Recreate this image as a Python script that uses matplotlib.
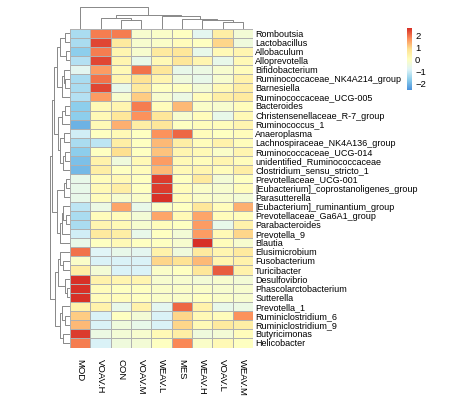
import numpy as np
import matplotlib
matplotlib.use("Agg")
import matplotlib.pyplot as plt
from matplotlib.colors import LinearSegmentedColormap

plt.rcParams['font.family'] = ['Liberation Sans', 'DejaVu Sans']

samples = ["MOD", "VOAV.H", "CON", "VOAV.M", "WEAV.L", "MES", "WEAV.H", "VOAV.L", "WEAV.M"]

taxa = ["Romboutsia", "Lactobacillus", "Allobaculum", "Alloprevotella", "Bifidobacterium",
        "Ruminococcaceae_NK4A214_group", "Barnesiella", "Ruminococcaceae_UCG-005", "Bacteroides",
        "Christensenellaceae_R-7_group", "Ruminococcus_1", "Anaeroplasma",
        "Lachnospiraceae_NK4A136_group", "Ruminococcaceae_UCG-014", "unidentified_Ruminococcaceae",
        "Clostridium_sensu_stricto_1", "Prevotellaceae_UCG-001",
        "[Eubacterium]_coprostanoligenes_group", "Parasutterella",
        "[Eubacterium]_ruminantium_group", "Prevotellaceae_Ga6A1_group", "Parabacteroides",
        "Prevotella_9", "Blautia", "Elusimicrobium", "Fusobacterium", "Turicibacter",
        "Desulfovibrio", "Phascolarctobacterium", "Sutterella", "Prevotella_1",
        "Ruminiclostridium_6", "Ruminiclostridium_9", "Butyricimonas", "Helicobacter"]

zscores = [
    [-1.4, 1.9, 1.9, -0.2, -0.1, 0.0, -0.7, 0.5, -0.3],
    [-1.4, 2.4, 0.6, -0.2, -0.1, 0.1, 0.0, 1.0, -0.4],
    [-1.7, 1.9, 0.3, -0.2, 0.6, 0.7, -0.6, 0.2, 0.3],
    [-1.3, 2.4, 0.3, -0.6, 0.2, 0.7, 0.3, -0.6, 0.2],
    [-0.7, 1.6, 0.2, 2.0, 0.7, -0.6, -0.5, -0.2, 0.1],
    [-1.4, 2.0, 0.3, 0.8, 0.3, -0.4, -0.6, -0.2, 0.4],
    [-1.4, 2.4, -0.6, 0.6, 0.0, 0.0, -0.3, 0.2, 0.5],
    [-1.3, 1.6, -0.2, 1.1, -0.2, -0.5, 0.1, 0.5, 0.6],
    [-1.7, 0.2, 0.3, 1.9, 0.1, 1.3, -0.1, -0.2, 0.1],
    [-1.7, 0.2, 0.7, 1.7, 0.7, -0.2, 0.1, -0.6, 0.2],
    [-2.1, 0.2, 1.4, 0.5, 0.7, 0.0, 0.1, 0.1, 0.3],
    [-1.0, 0.0, 0.2, 0.0, 1.7, 2.1, 0.1, 0.0, 0.1],
    [-1.4, -1.2, 0.5, 0.0, 1.3, 0.5, 0.1, 0.4, 0.1],
    [-1.7, 0.0, 0.9, 0.0, 1.2, 0.3, 0.2, -0.1, 0.3],
    [-1.9, 0.4, -0.4, 0.2, 1.6, 0.2, 0.1, 0.3, 0.1],
    [-2.0, 0.5, 0.0, 0.1, 1.3, 0.2, 0.3, 0.1, 0.5],
    [-0.6, 0.1, 0.2, 0.0, 2.5, 0.0, 0.6, -0.3, 0.0],
    [-0.6, 0.2, 0.5, 0.0, 2.5, 0.1, -0.1, -0.2, 0.1],
    [-0.6, 0.1, -0.2, -0.1, 2.6, 0.1, -0.1, -0.2, -0.3],
    [-1.2, -0.5, 1.5, -0.6, -0.1, 0.0, 0.7, 0.1, 1.4],
    [-1.4, 0.1, 0.1, -0.3, 1.5, 0.2, 1.5, 0.1, 0.1],
    [-1.4, 0.3, 0.2, -0.2, 0.1, 0.0, 1.6, -0.6, 0.4],
    [-1.0, 0.6, 0.5, -0.6, 0.0, -0.3, 1.6, 0.2, 1.0],
    [-0.6, 0.0, 0.2, 0.0, 0.0, -0.2, 2.6, 0.1, -0.2],
    [2.0, -0.8, -0.6, -0.7, 0.4, -0.4, 0.6, 0.3, 0.6],
    [-0.1, -0.9, -0.9, -0.9, 1.0, 0.8, 1.3, 0.3, 0.4],
    [0.5, -0.3, -0.9, -0.9, -0.1, 0.0, 0.7, 2.2, 0.4],
    [2.6, 0.4, 0.3, 0.3, -0.2, -0.2, -0.3, -0.2, -0.3],
    [2.6, 0.1, 0.0, 0.0, -0.1, -0.1, -0.1, -0.2, -0.2],
    [2.6, 0.1, 0.1, 0.0, -0.1, -0.1, 0.0, -0.1, -0.2],
    [0.4, 0.4, -0.6, 0.4, -0.7, 2.1, 0.4, -0.6, -0.5],
    [1.1, -0.9, 0.0, -0.3, -0.9, 1.0, 0.2, 0.1, 1.7],
    [1.3, -0.9, -0.4, -0.6, -0.9, 1.0, 0.2, 0.6, 0.5],
    [2.5, -0.5, -0.3, -0.2, 0.2, 0.5, -0.4, -0.3, 0.1],
    [1.9, -0.9, -0.4, -0.3, 0.0, 1.8, -0.1, 0.2, 0.0],
]

# linkage lists: [child_a, child_b, height]; new cluster id = n + index
col_linkage = [[2, 3, 8.0], [1, 9, 10.5], [7, 8, 6.3], [6, 11, 8.0], [5, 12, 9.7],
               [4, 13, 12.0], [10, 14, 13.0], [0, 15, 21.3]]

row_linkage = [[0, 1, 5], [2, 3, 4], [35, 36, 10], [5, 6, 5], [4, 38, 6], [39, 7, 8],
               [37, 40, 13], [8, 9, 5], [42, 10, 8], [11, 12, 6], [13, 14, 5], [45, 15, 7],
               [44, 46, 10], [43, 47, 12], [41, 48, 16], [16, 17, 4], [50, 18, 6],
               [20, 21, 4], [19, 52, 7], [53, 22, 8], [54, 23, 10], [51, 55, 13],
               [49, 56, 18], [25, 26, 7], [24, 58, 10], [28, 29, 3], [27, 60, 5],
               [59, 61, 12], [31, 32, 5], [30, 63, 8], [33, 34, 7], [64, 65, 10],
               [62, 66, 15], [57, 67, 20]]

legend_ticks = [-2, -1, 0, 1, 2]

data = np.array(zscores)
nr, nc = data.shape
vmin, vmax = -2.56, 2.62
cmap = LinearSegmentedColormap.from_list(
    "ph", ["#4a92dc", "#8ecfec", "#e0f5f8", "#FFFFBF", "#FEE090", "#FC8D59", "#D73027"])

W, H = 474, 397
fig = plt.figure(figsize=(W / 100, H / 100), dpi=100)

def fx(px):
    return px / W

def fy(py):
    return 1 - py / H

hm_l, hm_r, hm_t, hm_b = 70, 253, 28.5, 347.5
ax = fig.add_axes([fx(hm_l), fy(hm_b), fx(hm_r - hm_l), (hm_b - hm_t) / H])
mesh = ax.pcolormesh(np.arange(nc + 1), np.arange(nr + 1), data, cmap=cmap,
                     vmin=vmin, vmax=vmax, edgecolors="#b0b0b0", linewidth=0.4)
ax.set_xlim(0, nc)
ax.set_ylim(nr, 0)
for s in ax.spines.values():
    s.set_visible(False)
ax.set_xticks(np.arange(nc) + 0.5)
ax.set_xticklabels(samples, rotation=270, fontsize=6.8, va="top", ha="center")
ax.yaxis.tick_right()
ax.set_yticks(np.arange(nr) + 0.5)
ax.set_yticklabels(taxa, fontsize=6.5)
ax.tick_params(axis="both", length=0)
ax.tick_params(axis="x", pad=8)
ax.tick_params(axis="y", pad=1.5)


def draw_dendro(dax, linkage, n, vertical_top):
    pos = {i: i + 0.5 for i in range(n)}
    hgt = {i: 0.0 for i in range(n)}
    for k, (a, b, h) in enumerate(linkage):
        pa, pb = pos[a], pos[b]
        ha, hb = hgt[a], hgt[b]
        xs = [pa, pa, pb, pb]
        ys = [ha, h, h, hb]
        if vertical_top:
            dax.plot(xs, ys, color="#888888", lw=0.7, solid_capstyle="butt")
        else:
            dax.plot(ys, xs, color="#888888", lw=0.7, solid_capstyle="butt")
        pos[n + k] = (pa + pb) / 2
        hgt[n + k] = h
    dax.axis("off")


# column dendrogram
cax_d = fig.add_axes([fx(hm_l), fy(hm_t), fx(hm_r - hm_l), (hm_t - 6.7) / H])
draw_dendro(cax_d, col_linkage, nc, True)
cax_d.set_xlim(0, nc)
cax_d.set_ylim(0, 21.3)

# row dendrogram
rax_d = fig.add_axes([fx(50), fy(hm_b), fx(hm_l - 50), (hm_b - hm_t) / H])
draw_dendro(rax_d, row_linkage, nr, False)
rax_d.set_ylim(nr, 0)
rax_d.set_xlim(20, 0)

# colour legend
lg = fig.add_axes([fx(407.3), fy(90), fx(5), (90 - 28.3) / H])
grad = np.linspace(vmin, vmax, 200).reshape(-1, 1)
lg.imshow(grad, aspect="auto", cmap=cmap, vmin=vmin, vmax=vmax, origin="lower",
          extent=[0, 1, vmin, vmax])
lg.set_xticks([])
lg.yaxis.tick_right()
lg.set_yticks(legend_ticks)
lg.set_yticklabels([str(t) if t >= 0 else "\u2212" + str(-t) for t in legend_ticks], fontsize=6.8)
lg.tick_params(axis="y", length=0, pad=2)
for s in lg.spines.values():
    s.set_visible(False)

fig.savefig("out.png", dpi=100)
